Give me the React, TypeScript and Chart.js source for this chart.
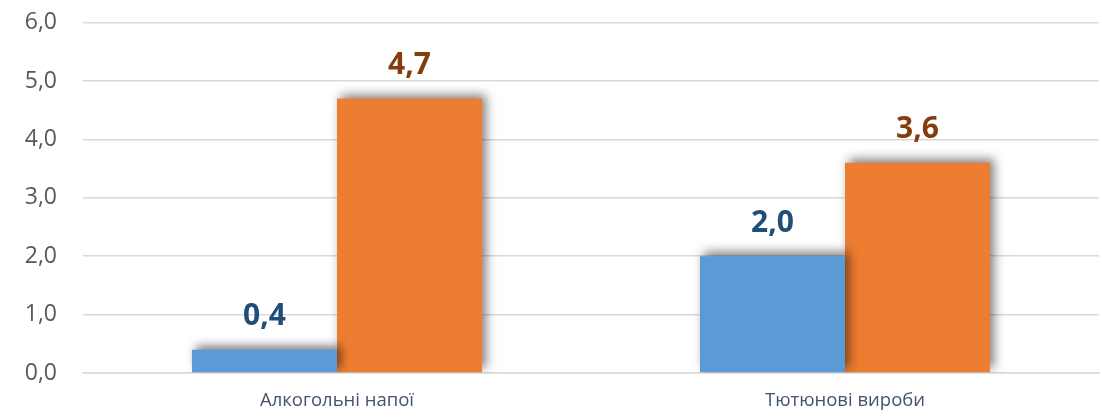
import React, { useEffect, useRef } from "react";
import { Chart, registerables } from "chart.js";

Chart.register(...registerables);

const categories = ["Алкогольні напої", "Тютюнові вироби"];
const seriesA = [0.4, 2.0];
const seriesB = [4.7, 3.6];
const seriesColors = ["#5B9BD5", "#ED7D31"];
const labelColors = ["#1F4E79", "#843C0C"];

const fmt = (v: number) => v.toFixed(1).replace(".", ",");

const shadowPlugin = {
  id: "barShadow",
  beforeDatasetsDraw(chart: any) {
    const ctx = chart.ctx;
    ctx.save();
    ctx.shadowColor = "rgba(0,0,0,0.5)";
    ctx.shadowBlur = 10;
    ctx.shadowOffsetX = 4;
    ctx.shadowOffsetY = -4;
  },
  afterDatasetsDraw(chart: any) {
    chart.ctx.restore();
  },
};

const labelPlugin = {
  id: "valueLabels",
  afterDatasetsDraw(chart: any) {
    const ctx = chart.ctx;
    ctx.save();
    ctx.font = "bold 30px 'Open Sans', sans-serif";
    ctx.textAlign = "center";
    ctx.textBaseline = "middle";
    chart.data.datasets.forEach((ds: any, di: number) => {
      const meta = chart.getDatasetMeta(di);
      meta.data.forEach((bar: any, i: number) => {
        ctx.fillStyle = labelColors[di];
        ctx.fillText(fmt(ds.data[i]), bar.x, bar.y - 33);
      });
    });
    ctx.restore();
  },
};

export default function App() {
  const ref = useRef<HTMLCanvasElement>(null);
  useEffect(() => {
    if (!ref.current) return;
    const chart = new Chart(ref.current, {
      type: "bar",
      data: {
        labels: categories,
        datasets: [
          { label: "A", data: seriesA, backgroundColor: seriesColors[0] },
          { label: "B", data: seriesB, backgroundColor: seriesColors[1] },
        ],
      },
      options: {
        animation: false,
        responsive: false,
        maintainAspectRatio: false,
        layout: { padding: { top: 22.7, right: 3, left: 0, bottom: 0 } },
        plugins: { legend: { display: false }, tooltip: { enabled: false } },
        datasets: { bar: { categoryPercentage: 0.571, barPercentage: 1 } },
        scales: {
          x: {
            grid: { display: false, drawTicks: false },
            border: { display: true, color: "#D9D9D9", width: 1.5 },
            ticks: {
              color: "#44546A",
              font: { family: "'Open Sans', sans-serif", size: 18.5 },
              padding: 17,
            },
            afterFit(scale: any) {
              scale.height = 45;
              scale.paddingLeft = 0;
              scale.paddingRight = 0;
            },
          },
          y: {
            min: 0,
            max: 6,
            ticks: {
              stepSize: 1,
              color: "#595959",
              font: { family: "'Open Sans', sans-serif", size: 23 },
              padding: 26,
              callback: (v: any) => fmt(Number(v)),
            },
            grid: { color: "#D9D9D9", lineWidth: 1.5, drawTicks: false },
            border: { display: false },
            afterFit(scale: any) {
              scale.width = 83;
              scale.paddingTop = 0;
              scale.paddingBottom = 0;
            },
          },
        },
      },
      plugins: [shadowPlugin, labelPlugin],
    });
    return () => chart.destroy();
  }, []);
  return (
    <div style={{ position: "fixed", left: 0, top: 0, width: 1102, height: 418, background: "#fff" }}>
      <canvas ref={ref} width={1102} height={418} />
    </div>
  );
}
